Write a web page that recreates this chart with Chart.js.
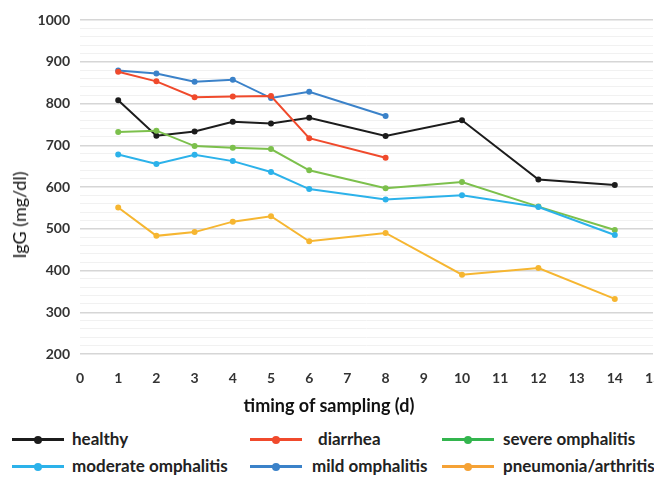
<!DOCTYPE html>
<html>
<head>
<meta charset="utf-8">
<script src="https://cdn.jsdelivr.net/npm/chart.js@4"></script>
<style>
    html, body { margin: 0; padding: 0; background: #fff; overflow: hidden; }
    #wrap { position: relative; width: 680px; height: 420px; }
    .legend, .axis-title { position: absolute; font-family: "Lato", "DejaVu Sans", sans-serif; color: #222; white-space: nowrap; }
    .legend { font-weight: bold; font-size: 17px; line-height: 18px; }
    .legend .swatch { position: absolute; height: 3px; }
    .legend .dot { position: absolute; top: -2.5px; width: 8px; height: 8px; border-radius: 50%; }
    .legend span.txt { position: absolute; }
    #xTitle { left: 329px; top: 405px; transform: translate(-50%, -50%); font-size: 18px; font-weight: bold; color: #111; }
    #yTitle { left: 19px; top: 215px; transform: translate(-50%, -50%) rotate(-90deg); font-size: 18px; color: #111; }
</style>
</head>
<body>
<div id="wrap"><canvas id="igg" width="680" height="420"></canvas></div>
<div id="xTitle" class="axis-title">timing of sampling (d)</div>
<div id="yTitle" class="axis-title">IgG (mg/dl)</div>
<div id="legend"></div>
<script>
// giorni di campionamento
const days = [1, 2, 3, 4, 5, 6, 8, 10, 12, 14];
const daysShort = [1, 2, 3, 4, 5, 6, 8];

// IgG (mg/dl) per gruppo
const healthy = [808, 723, 733, 756, 752, 766, 722, 760, 618, 605];
const diarrhea = [876, 853, 815, 817, 818, 717, 670];
const severeOmphalitis = [732, 735, 698, 694, 691, 640, 597, 612, 553, 497];
const moderateOmphalitis = [678, 655, 677, 662, 636, 595, 570, 580, 552, 485];
const mildOmphalitis = [879, 872, 852, 857, 813, 828, 770];
const pneumoniaArthritis = [551, 483, 492, 517, 530, 470, 490, 390, 406, 332];

const seriesLabels = ['healthy', 'diarrhea', 'severe omphalitis', 'moderate omphalitis', 'mild omphalitis', 'pneumonia/arthritis'];
const seriesColors = ['#1c1c1c', '#f04a2c', '#7cc04c', '#2cb2ea', '#3b82c9', '#f6b631'];
const legendColors = ['#1c1c1c', '#f04a2c', '#33b54e', '#2cb2ea', '#3b82c9', '#f5a235'];

function toPoints(xs, ys) {
    return ys.map((y, i) => ({ x: xs[i], y: y }));
}

const allSeries = [
    toPoints(days, healthy),
    toPoints(daysShort, diarrhea),
    toPoints(days, severeOmphalitis),
    toPoints(days, moderateOmphalitis),
    toPoints(daysShort, mildOmphalitis),
    toPoints(days, pneumoniaArthritis)
];

// l'ordine di disegno: linee più scure sopra
const drawOrder = [5, 3, 2, 1, 4, 0];

const datasets = drawOrder.map(i => ({
    label: seriesLabels[i],
    data: allSeries[i],
    borderColor: seriesColors[i],
    backgroundColor: seriesColors[i],
    borderWidth: 2,
    pointRadius: 2,
    pointHoverRadius: 3,
    tension: 0
}));

const tickFont = { family: 'Lato, "DejaVu Sans", sans-serif', size: 14, weight: 'bold' };

new Chart(document.getElementById('igg').getContext('2d'), {
    type: 'line',
    data: { datasets: datasets },
    options: {
        responsive: false,
        animation: false,
        layout: { padding: { top: 20, right: 27, left: 0, bottom: 0 } },
        plugins: { legend: { display: false }, tooltip: { enabled: false } },
        scales: {
            x: {
                type: 'linear',
                min: 0,
                max: 15,
                ticks: { stepSize: 1, color: '#333', font: tickFont, padding: 8 },
                grid: { display: false },
                border: { display: false },
                afterFit: s => { s.height = 66; }
            },
            y: {
                min: 200,
                max: 1000,
                ticks: {
                    stepSize: 20,
                    color: '#333',
                    font: tickFont,
                    padding: 10,
                    autoSkip: false,
                    callback: v => (v % 100 === 0 ? v : '')
                },
                grid: {
                    drawTicks: false,
                    color: c => (c.tick && c.tick.value % 100 === 0 ? '#d6d6d6' : '#f1f1f1'),
                    lineWidth: c => (c.tick && c.tick.value % 100 === 0 ? 1.5 : 1)
                },
                border: { display: false },
                afterFit: s => { s.width = 80; }
            }
        }
    }
});

// legenda in HTML, 3 colonne x 2 righe
const legendPos = [
    { x: 12, y: 439, tx: 72 },
    { x: 250, y: 439, tx: 318 },
    { x: 442, y: 439, tx: 503 },
    { x: 12, y: 466, tx: 72 },
    { x: 250, y: 466, tx: 312 },
    { x: 442, y: 466, tx: 503 }
];
const legendEl = document.getElementById('legend');
seriesLabels.forEach((label, i) => {
    const p = legendPos[i];
    const item = document.createElement('div');
    item.className = 'legend';
    item.style.left = '0px';
    item.style.top = p.y + 'px';
    item.innerHTML =
        `<div class="swatch" style="left:${p.x}px;top:-1px;width:52px;background:${legendColors[i]}">` +
        `<div class="dot" style="left:22px;background:${legendColors[i]}"></div></div>` +
        `<span class="txt" style="left:${p.tx}px;top:-9px">${label}</span>`;
    legendEl.appendChild(item);
});
</script>
</body>
</html>
